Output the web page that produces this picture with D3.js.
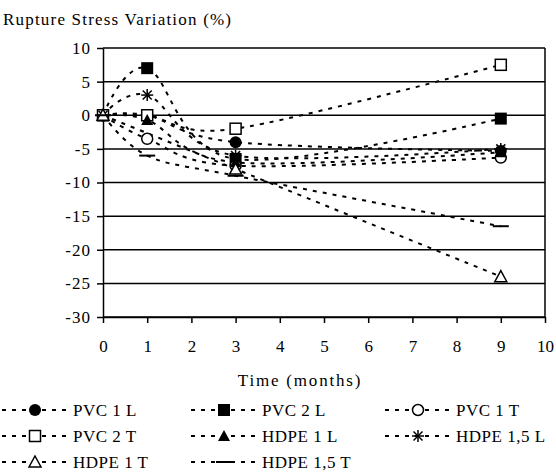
<!DOCTYPE html>
<html>
<head>
<meta charset="utf-8">
<script src="https://cdn.jsdelivr.net/npm/d3@7/dist/d3.min.js"></script>
<style>
  html, body { margin: 0; padding: 0; background: #fff; }
  svg text { font-family: "Liberation Serif", "DejaVu Serif", serif; fill: #000; }
</style>
</head>
<body>
<svg id="chart" width="556" height="473"></svg>
<script>
// Sampling times (months)
const months = [0, 1, 3, 9];

// Rupture stress variation (%) per specimen (null = not measured)
const pvc1L   = [0, 0, -4, -5.3];
const pvc2L   = [0, 7, -6.5, -0.5];
const pvc1T   = [0, -3.5, -7.5, -6.3];
const pvc2T   = [0, 0, -2, 7.5];
const hdpe1L  = [0, -0.7, -7, -5.5];
const hdpe15L = [0, 3, -6, -5];
const hdpe1T  = [0, null, -8, -24];
const hdpe15T = [0, -6, -9, -16.5];

const seriesNames = ["PVC 1 L", "PVC 2 L", "PVC 1 T", "PVC 2 T",
                     "HDPE 1 L", "HDPE 1,5 L", "HDPE 1 T", "HDPE 1,5 T"];
const seriesValues = [pvc1L, pvc2L, pvc1T, pvc2T, hdpe1L, hdpe15L, hdpe1T, hdpe15T];
const markerKinds = ["circleFill", "squareFill", "circleOpen", "squareOpen",
                     "triFill", "star", "triOpen", "dash"];

const xTicks = [0, 1, 2, 3, 4, 5, 6, 7, 8, 9, 10];
const yTicks = [10, 5, 0, -5, -10, -15, -20, -25, -30];

const svg = d3.select("#chart");

const x = d3.scaleLinear().domain([0, 10]).range([103, 545]);
const y = d3.scaleLinear().domain([-30, 10]).range([317, 48]);

const DASH = "4,6";

// Title
svg.append("text")
  .attr("x", 3).attr("y", 25)
  .attr("font-size", 17)
  .attr("letter-spacing", "1.2px")
  .text("Rupture Stress Variation (%)");

// Horizontal gridlines
svg.append("g").selectAll("line")
  .data(yTicks)
  .join("line")
  .attr("x1", x(0)).attr("x2", x(10))
  .attr("y1", d => y(d)).attr("y2", d => y(d))
  .attr("stroke", "#000").attr("stroke-width", 1.5);

// Right border
svg.append("line")
  .attr("x1", x(10)).attr("x2", x(10))
  .attr("y1", y(10)).attr("y2", y(-30))
  .attr("stroke", "#000").attr("stroke-width", 1.5);

const fmt = d => String(d);

// Y axis
const yAxis = svg.append("g")
  .attr("transform", `translate(${x(0)},0)`)
  .call(d3.axisLeft(y).tickValues(yTicks).tickFormat(fmt).tickSize(6).tickPadding(6).tickSizeOuter(0));
yAxis.selectAll("text").attr("font-size", 17).attr("font-family", "Liberation Serif")
  .attr("letter-spacing", "1px");
yAxis.selectAll("line, path").attr("stroke", "#000").attr("stroke-width", 1.5);

// X axis
const xAxis = svg.append("g")
  .attr("transform", `translate(0,${y(-30)})`)
  .call(d3.axisBottom(x).tickValues(xTicks).tickFormat(fmt).tickSize(6).tickPadding(17).tickSizeOuter(0));
xAxis.selectAll("text").attr("font-size", 17).attr("font-family", "Liberation Serif");
xAxis.selectAll("line, path").attr("stroke", "#000").attr("stroke-width", 1.5);

svg.append("text")
  .attr("x", 300).attr("y", 386)
  .attr("text-anchor", "middle")
  .attr("font-size", 17)
  .attr("letter-spacing", "1.8px")
  .text("Time (months)");

// Smoothed dashed lines through the measured points
const line = d3.line()
  .x(d => x(d[0]))
  .y(d => y(d[1]))
  .curve(d3.curveCardinal.tension(0));

const pointsOf = vals => months.map((m, i) => [m, vals[i]]).filter(p => p[1] !== null);

svg.append("g").selectAll("path")
  .data(seriesValues)
  .join("path")
  .attr("d", d => line(pointsOf(d)))
  .attr("fill", "none")
  .attr("stroke", "#000")
  .attr("stroke-width", 2)
  .attr("stroke-dasharray", DASH);

// Marker drawing
function drawMarker(g, kind, cx, cy) {
  const s = 6;
  switch (kind) {
    case "circleFill":
      g.append("circle").attr("cx", cx).attr("cy", cy).attr("r", s).attr("fill", "#000");
      break;
    case "circleOpen":
      g.append("circle").attr("cx", cx).attr("cy", cy).attr("r", s - 0.5)
        .attr("fill", "#fff").attr("stroke", "#000").attr("stroke-width", 1.5);
      break;
    case "squareFill":
      g.append("rect").attr("x", cx - s).attr("y", cy - s).attr("width", 2 * s).attr("height", 2 * s)
        .attr("fill", "#000");
      break;
    case "squareOpen":
      g.append("rect").attr("x", cx - s + 0.5).attr("y", cy - s + 0.5)
        .attr("width", 2 * s - 1).attr("height", 2 * s - 1)
        .attr("fill", "#fff").attr("stroke", "#000").attr("stroke-width", 1.5);
      break;
    case "triFill":
      g.append("path").attr("d", `M${cx},${cy - s}L${cx + s},${cy + s - 1}L${cx - s},${cy + s - 1}Z`)
        .attr("fill", "#000");
      break;
    case "triOpen":
      g.append("path").attr("d", `M${cx},${cy - s}L${cx + s},${cy + s - 1}L${cx - s},${cy + s - 1}Z`)
        .attr("fill", "#fff").attr("stroke", "#000").attr("stroke-width", 1.5);
      break;
    case "star":
      [[-s, 0, s, 0], [0, -s, 0, s], [-s + 1.5, -s + 1.5, s - 1.5, s - 1.5], [-s + 1.5, s - 1.5, s - 1.5, -s + 1.5]]
        .forEach(l => g.append("line")
          .attr("x1", cx + l[0]).attr("y1", cy + l[1]).attr("x2", cx + l[2]).attr("y2", cy + l[3])
          .attr("stroke", "#000").attr("stroke-width", 1.5));
      break;
    case "dash":
      g.append("line").attr("x1", cx - s - 2).attr("x2", cx + s + 2).attr("y1", cy).attr("y2", cy)
        .attr("stroke", "#000").attr("stroke-width", 2);
      break;
  }
}

// Markers, later series drawn over earlier ones
const markerLayer = svg.append("g");
seriesValues.forEach((vals, si) => {
  vals.forEach((v, i) => {
    if (v !== null) drawMarker(markerLayer, markerKinds[si], x(months[i]), y(v));
  });
});

// Legend: three columns, three rows
const legendCols = [2, 191, 385];
const legendRows = [410, 436, 462];
const legend = svg.append("g");
seriesNames.forEach((name, i) => {
  const lx = legendCols[i % 3];
  const ly = legendRows[Math.floor(i / 3)];
  const g = legend.append("g");
  g.append("line")
    .attr("x1", lx).attr("x2", lx + 69)
    .attr("y1", ly).attr("y2", ly)
    .attr("stroke", "#000").attr("stroke-width", 2)
    .attr("stroke-dasharray", DASH);
  drawMarker(g, markerKinds[i], lx + 33, ly);
  g.append("text")
    .attr("x", lx + 71).attr("y", ly + 6)
    .attr("font-size", 17)
    .attr("letter-spacing", "0.5px")
    .text(name);
});
</script>
</body>
</html>
